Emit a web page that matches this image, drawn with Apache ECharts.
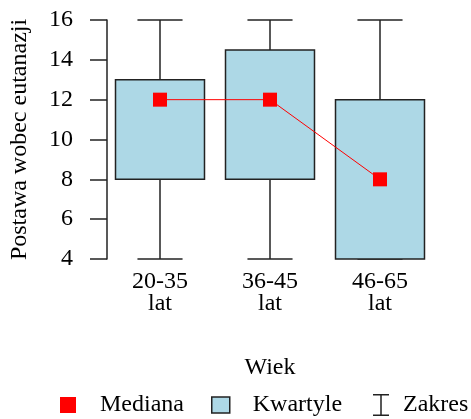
<!DOCTYPE html>
<html><head><meta charset="utf-8">
<script src="https://cdn.jsdelivr.net/npm/echarts@6/dist/echarts.min.js"></script>
<style>html,body{margin:0;padding:0;background:#fff}#c{width:471px;height:419px}</style>
</head><body><div id="c"></div>
<script>
const categories = ['20-35\nlat', '36-45\nlat', '46-65\nlat'];
const minValues = [4, 4, 4];
const q1Values = [8, 8, 4];
const medianValues = [12, 12, 8];
const q3Values = [13, 14.5, 12];
const maxValues = [16, 16, 16];
const yTicks = [4, 6, 8, 10, 12, 14, 16];

const FONT = "'Liberation Serif', 'Times New Roman', serif";
const INK = '#222';

const whiskerData = categories.map((c, i) => [i, minValues[i], maxValues[i]]);
const boxData = categories.map((c, i) => [i, q1Values[i], q3Values[i]]);

const chart = echarts.init(document.getElementById('c'), null, {renderer: 'canvas'});
chart.setOption({
  animation: false,
  backgroundColor: '#fff',
  textStyle: {fontFamily: FONT, color: '#000'},
  grid: {left: 105, width: 330, top: 20, height: 239, outerBoundsMode: 'none', containLabel: false},
  xAxis: {
    type: 'category',
    data: categories,
    axisLine: {show: false},
    axisTick: {show: false},
    axisLabel: {fontFamily: FONT, fontSize: 24, color: '#000', lineHeight: 22, margin: 12},
    name: 'Wiek',
    nameLocation: 'middle',
    nameGap: 97,
    nameTextStyle: {fontFamily: FONT, fontSize: 24, color: '#000'}
  },
  yAxis: {
    type: 'value',
    min: yTicks[0],
    max: yTicks[yTicks.length - 1],
    interval: yTicks[1] - yTicks[0],
    offset: -2,
    splitLine: {show: false},
    axisLine: {show: true, lineStyle: {color: INK, width: 1.5}},
    axisTick: {show: true, length: 17, lineStyle: {color: INK, width: 1.5}},
    axisLabel: {fontFamily: FONT, fontSize: 24, color: '#000', margin: 34},
    name: 'Postawa wobec eutanazji',
    nameLocation: 'middle',
    nameRotate: 90,
    nameGap: 75,
    nameTextStyle: {fontFamily: FONT, fontSize: 24, color: '#000'}
  },
  legend: [
    {
      left: 60, top: 393, padding: 0, itemWidth: 16, itemHeight: 16,
      textStyle: {fontFamily: FONT, fontSize: 24, color: '#000', padding: [0, 0, 0, 19]},
      data: [{name: 'Mediana', icon: 'rect', itemStyle: {color: '#ff0000', borderWidth: 0}}]
    },
    {
      left: 211, top: 393, padding: 0, itemWidth: 18, itemHeight: 16,
      textStyle: {fontFamily: FONT, fontSize: 24, color: '#000', padding: [0, 0, 0, 18]},
      data: [{name: 'Kwartyle', icon: 'rect', itemStyle: {color: '#add8e6', borderColor: INK, borderWidth: 1.5}}]
    },
    {
      left: 373, top: 393, padding: 0, itemWidth: 16, itemHeight: 22,
      textStyle: {fontFamily: FONT, fontSize: 24, color: '#000', padding: [0, 0, 0, 9]},
      data: [{name: 'Zakres', icon: 'path://M0,0H16V1.5H8.75V20.5H16V22H0V20.5H7.25V1.5H0Z', itemStyle: {color: INK, borderWidth: 0}}]
    }
  ],
  series: [
    {
      name: 'Zakres',
      type: 'custom',
      data: whiskerData,
      encode: {x: 0, y: [1, 2]},
      itemStyle: {color: INK},
      renderItem: function (params, api) {
        const x = api.value(0);
        const top = api.coord([x, api.value(2)]);
        const bot = api.coord([x, api.value(1)]);
        const half = api.size([1, 0])[0] * 0.205;
        const style = {stroke: INK, lineWidth: 1.5, fill: null};
        return {
          type: 'group',
          children: [
            {type: 'line', shape: {x1: top[0], y1: top[1], x2: bot[0], y2: bot[1]}, style: style},
            {type: 'line', shape: {x1: top[0] - half, y1: top[1], x2: top[0] + half, y2: top[1]}, style: style},
            {type: 'line', shape: {x1: bot[0] - half, y1: bot[1], x2: bot[0] + half, y2: bot[1]}, style: style}
          ]
        };
      }
    },
    {
      name: 'Kwartyle',
      type: 'custom',
      data: boxData,
      encode: {x: 0, y: [1, 2]},
      itemStyle: {color: '#add8e6'},
      renderItem: function (params, api) {
        const x = api.value(0);
        const hi = api.coord([x, api.value(2)]);
        const lo = api.coord([x, api.value(1)]);
        const half = api.size([1, 0])[0] * 0.4045;
        return {
          type: 'rect',
          shape: {x: hi[0] - half, y: hi[1], width: half * 2, height: lo[1] - hi[1]},
          style: {fill: '#add8e6', stroke: INK, lineWidth: 1.5}
        };
      }
    },
    {
      name: 'Mediana',
      type: 'line',
      data: medianValues,
      symbol: 'rect',
      symbolSize: 14,
      itemStyle: {color: '#ff0000'},
      lineStyle: {color: '#ff0000', width: 1},
      z: 5
    }
  ]
});
</script></body></html>
